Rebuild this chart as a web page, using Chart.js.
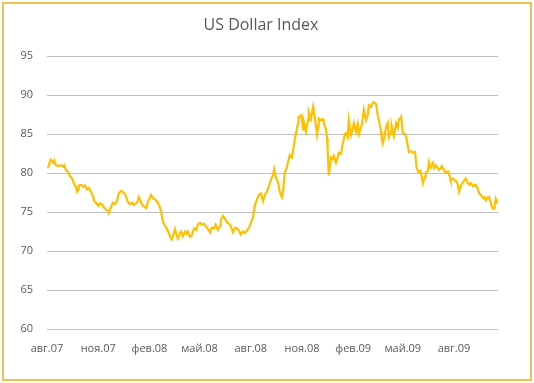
<!DOCTYPE html>
<html>
<head>
<meta charset="utf-8">
<script src="https://cdn.jsdelivr.net/npm/chart.js@4/dist/chart.umd.min.js"></script>
<style>
  html, body { margin: 0; padding: 0; background: #ffffff; }
  #wrap { position: relative; width: 534px; height: 383px; }
</style>
</head>
<body>
<div id="wrap"><canvas id="c" width="534" height="383"></canvas></div>
<script>
const chartTitle = 'US Dollar Index';
const startDate = '2007-08-01';
const tickDates = ['2007-08-01','2007-11-01','2008-02-01','2008-05-01','2008-08-01','2008-11-01','2009-02-01','2009-05-01','2009-08-01'];
const tickLabels = ['авг.07','ноя.07','фев.08','май.08','авг.08','ноя.08','фев.09','май.09','авг.09'];
const yTicks = [60, 65, 70, 75, 80, 85, 90, 95];

// days since startDate
const dayOffsets = [
  2,4,7,11,13,16,20,25,29,31,34,38,41,45,48,52,54,56,57,61,65,68,72,75,79,83,84,88,92,95,
  99,102,106,110,111,115,118,122,126,129,133,136,140,142,145,149,153,156,160,163,165,169,172,178,181,185,187,190,194,197,
  199,203,205,208,212,214,217,221,224,226,230,232,235,239,241,244,248,251,253,257,260,264,268,271,275,278,282,285,289,293,
  296,300,303,307,311,312,316,320,323,327,330,334,338,341,345,348,352,355,359,363,366,370,373,377,381,384,388,391,395,399,
  402,406,408,411,415,418,420,422,424,427,431,433,436,440,442,445,449,451,452,456,458,460,461,465,467,469,470,474,478,479,
  481,483,485,487,488,492,496,497,501,503,504,506,508,510,513,515,519,522,524,528,531,535,537,540,542,546,549,551,555,558,
  560,564,566,569,573,576,578,582,585,587,591,594,596,600,601,603,605,609,612,614,618,619,623,627,630,632,636,639,643,645,
  648,650,654,657,661,662,664,668,671,675,679,680,684,686,689,693,695,698,700,704,707,709,713,716,720,724,725,729,733,736,
  738,740,743,747,750,752,756,758,761,765,768,770,774,776,779,783,786,788,792,794,797,799,801,803,804,806,808,810
];
const dollarIndex = [
  80.6,81.2,81.7,81.3,81.6,81.0,80.9,81.0,80.8,81.0,80.4,80.1,79.6,79.3,78.7,78.2,77.6,77.9,78.4,78.5,78.2,78.4,77.9,78.1,77.6,76.9,76.5,76.2,75.8,76.1,
  76.0,75.6,75.3,75.1,75.0,75.6,76.2,76.0,76.5,77.4,77.7,77.6,77.3,77.0,76.3,76.0,76.2,75.9,76.1,76.4,76.9,76.2,75.8,75.5,76.2,76.9,77.2,76.8,76.6,76.4,
  76.2,75.6,75.0,73.8,73.2,73.0,72.6,71.9,71.5,71.9,72.8,72.2,71.6,72.3,72.5,71.9,72.5,72.2,72.5,71.8,72.0,72.9,72.7,73.4,73.6,73.4,73.5,73.2,72.8,72.4,
  73.0,72.9,73.4,72.7,73.2,73.9,74.5,74.1,73.7,73.5,73.2,72.4,73.0,72.9,72.6,72.1,72.5,72.3,72.6,73.0,73.6,74.3,75.8,76.6,77.2,77.4,76.4,77.2,77.6,78.4,
  79.1,79.8,80.5,79.4,78.8,77.6,77.2,76.9,77.7,80.0,80.8,81.4,82.3,82.0,82.9,84.3,85.7,86.5,87.2,87.4,86.8,85.6,86.6,85.3,86.2,86.8,87.8,86.9,88.5,88.0,
  87.1,86.0,84.9,86.0,87.0,86.8,86.9,86.5,85.5,84.5,83.2,79.7,80.8,82.0,81.8,82.2,81.3,82.0,82.6,82.5,83.7,85.0,85.1,84.6,86.8,84.9,85.6,86.4,85.3,86.3,
  85.0,85.8,86.4,88.1,86.8,87.4,88.7,88.5,89.0,89.1,88.8,87.4,86.8,85.3,84.4,83.8,84.3,85.9,86.4,84.6,85.3,86.0,84.7,86.4,85.8,86.8,87.2,85.1,85.0,84.6,
  83.5,82.7,82.8,82.6,82.7,82.7,80.6,80.1,80.3,78.7,79.5,80.0,80.3,81.4,80.7,81.3,80.6,81.0,80.8,80.4,80.6,80.9,80.4,80.0,80.2,79.4,79.1,79.3,79.0,78.9,
  78.4,77.6,78.3,78.8,79.1,79.3,78.7,78.5,78.7,78.3,78.4,78.5,77.9,77.4,77.2,76.8,76.9,76.5,76.9,76.9,76.2,75.7,75.4,75.5,75.9,76.7,76.3,76.6
];

const DAY = 86400000;
const t0 = Date.parse(startDate + 'T00:00:00Z');
const tickDays = tickDates.map(d => Math.round((Date.parse(d + 'T00:00:00Z') - t0) / DAY));
const points = dayOffsets.map((d, i) => ({ x: d, y: dollarIndex[i] }));

const frame = {
  id: 'frame',
  beforeDraw(chart) {
    const ctx = chart.ctx;
    ctx.save();
    ctx.fillStyle = '#ffffff';
    ctx.fillRect(0, 0, chart.width, chart.height);
    ctx.strokeStyle = '#EFC24E';
    ctx.lineWidth = 2;
    ctx.strokeRect(3, 3, chart.width - 6, chart.height - 6);
    ctx.restore();
  },
  afterDraw(chart) {
    const ctx = chart.ctx;
    ctx.save();
    ctx.fillStyle = '#595959';
    ctx.font = '16px "Open Sans"';
    ctx.textAlign = 'center';
    ctx.textBaseline = 'middle';
    ctx.fillText(chartTitle, 261, 25);
    ctx.restore();
  }
};

new Chart(document.getElementById('c'), {
  type: 'line',
  data: {
    datasets: [{
      label: chartTitle,
      data: points,
      borderColor: '#FFC000',
      backgroundColor: '#FFC000',
      borderWidth: 2.2,
      pointRadius: 0,
      tension: 0,
      fill: false
    }]
  },
  options: {
    responsive: false,
    animation: false,
    layout: { padding: { left: 0, right: 36, top: 56, bottom: 0 } },
    plugins: {
      legend: { display: false },
      tooltip: { enabled: false },
      title: { display: false }
    },
    scales: {
      x: {
        type: 'linear',
        min: 0,
        max: 810,
        grid: { display: false, drawTicks: false },
        border: { display: false },
        afterFit(s) { s.height = 54; },
        afterBuildTicks(s) { s.ticks = tickDays.map(v => ({ value: v })); },
        ticks: {
          autoSkip: false,
          maxRotation: 0,
          padding: 13,
          color: '#595959',
          font: { family: 'Open Sans', size: 11 },
          callback(v) { const i = tickDays.indexOf(v); return i >= 0 ? tickLabels[i] : ''; }
        }
      },
      y: {
        min: 60,
        max: 95,
        grid: { color: '#BFBFBF', lineWidth: 1, drawTicks: false },
        border: { display: false },
        afterFit(s) { s.width = 47; },
        afterBuildTicks(s) { s.ticks = yTicks.map(v => ({ value: v })); },
        ticks: {
          padding: 14,
          color: '#595959',
          font: { family: 'Open Sans', size: 11 }
        }
      }
    }
  },
  plugins: [frame]
});
</script>
</body>
</html>
